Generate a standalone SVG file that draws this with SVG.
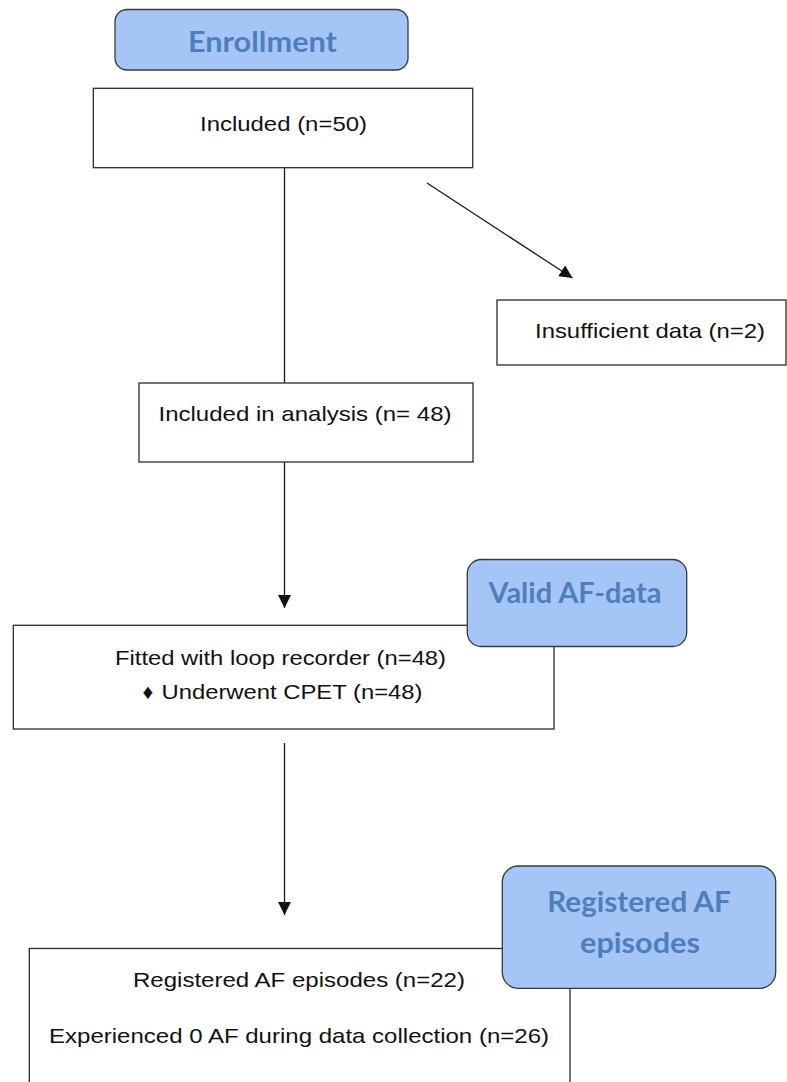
<svg xmlns="http://www.w3.org/2000/svg" width="787" height="1082" viewBox="0 0 787 1082">
  <style>
    .box { fill: #ffffff; stroke: #2b2b2b; stroke-width: 1.3; }
    .stage { fill: #a6c5f7; stroke: #3a3a3a; stroke-width: 1.3; }
    .label { font-family: "Liberation Sans", Arial, sans-serif; font-size: 21px; fill: #111111; }
    .title { font-family: Lato, "Open Sans", sans-serif; font-weight: 700; font-size: 28px; fill: #4d7fbd; }
    .edge { stroke: #1a1a1a; stroke-width: 1.3; fill: none; }
  </style>
  <defs>
    <marker id="arrow" markerUnits="userSpaceOnUse" markerWidth="14" markerHeight="14" refX="13" refY="6.5" orient="auto">
      <path d="M0,0 L13,6.5 L0,13 z" fill="#111111"/>
    </marker>
  </defs>

  <rect width="787" height="1082" fill="#ffffff"/>

  <!-- connectors -->
  <g id="connectors">
    <line class="edge" x1="284.5" y1="168" x2="284.5" y2="383"/>
    <line class="edge" x1="427" y1="183" x2="572.5" y2="278" marker-end="url(#arrow)"/>
    <line class="edge" x1="284.5" y1="462" x2="284.5" y2="608" marker-end="url(#arrow)"/>
    <line class="edge" x1="284.5" y1="743" x2="284.5" y2="915" marker-end="url(#arrow)"/>
  </g>

  <!-- stage header: enrollment -->
  <g id="stage-enrollment">
    <rect class="stage" x="115" y="9.5" width="293" height="60.5" rx="12"/>
    <text class="title" x="188" y="51.7" textLength="149" lengthAdjust="spacingAndGlyphs">Enrollment</text>
  </g>

  <g id="node-included">
    <rect class="box" x="93.3" y="88.3" width="379.4" height="79.4"/>
    <text class="label" x="200" y="131" textLength="167" lengthAdjust="spacingAndGlyphs">Included (n=50)</text>
  </g>

  <g id="node-insufficient">
    <rect class="box" x="497" y="300" width="289" height="65"/>
    <text class="label" x="535" y="338" textLength="230" lengthAdjust="spacingAndGlyphs">Insufficient data (n=2)</text>
  </g>

  <g id="node-analysis">
    <rect class="box" x="139" y="383" width="334" height="79"/>
    <text class="label" x="158.5" y="420.5" textLength="293" lengthAdjust="spacingAndGlyphs">Included in analysis (n= 48)</text>
  </g>

  <g id="node-fitted">
    <rect class="box" x="13.3" y="625.3" width="540.7" height="103.7"/>
    <text class="label" x="115" y="664.5" textLength="331" lengthAdjust="spacingAndGlyphs">Fitted with loop recorder (n=48)</text>
    <text class="label" x="142.5" y="698.5" font-size="13">♦</text>
    <text class="label" x="161.5" y="698.5" textLength="261" lengthAdjust="spacingAndGlyphs">Underwent CPET (n=48)</text>
  </g>

  <!-- stage header: valid AF data -->
  <g id="stage-valid">
    <rect class="stage" x="467.3" y="559.5" width="219.4" height="87" rx="14"/>
    <text class="title" x="488.5" y="603.3" textLength="173" lengthAdjust="spacingAndGlyphs">Valid AF-data</text>
  </g>

  <g id="node-registered">
    <rect class="box" x="29.3" y="948.5" width="540.7" height="150"/>
    <text class="label" x="133" y="987" textLength="332" lengthAdjust="spacingAndGlyphs">Registered AF episodes (n=22)</text>
    <text class="label" x="49" y="1043" textLength="500" lengthAdjust="spacingAndGlyphs">Experienced 0 AF during data collection (n=26)</text>
  </g>

  <!-- stage header: registered AF episodes -->
  <g id="stage-episodes">
    <rect class="stage" x="502.3" y="866" width="273.4" height="122.3" rx="16"/>
    <text class="title" x="547.3" y="911.7" textLength="183.4" lengthAdjust="spacingAndGlyphs">Registered AF</text>
    <text class="title" x="580" y="953.3" textLength="120" lengthAdjust="spacingAndGlyphs">episodes</text>
  </g>
</svg>
